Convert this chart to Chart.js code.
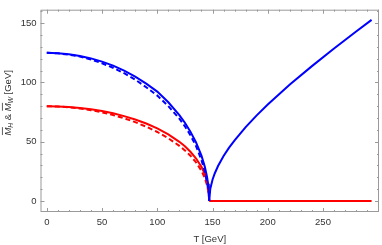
<!DOCTYPE html>
<html lang="en">
<head>
    <meta charset="UTF-8">
    <title>M_H and M_W vs T</title>
    <script src="https://cdn.jsdelivr.net/npm/chart.js@4.4.1/dist/chart.umd.min.js"></script>
    <style>
        body { margin: 0; background: #fff; }
    </style>
</head>
<body>
    <div id="chartContainer" style="width: 382px; height: 245px;">
        <canvas id="c" width="382" height="245"></canvas>
    </div>
    <script>
// temperature points of the broken phase (T < Tc)
const tFall = [0, 10, 20, 30, 40, 50, 60, 70, 80, 90, 100, 110, 120, 125, 130, 135, 140, 143, 145, 146, 146.6, 147];
// Higgs mass, solid and dashed
const mHSolid  = [125, 124.7, 123.8, 122.4, 120.3, 117.6, 114.2, 110.0, 105.0, 99.0, 92.3, 83.3, 72.5, 66.0, 58.5, 49.6, 38.2, 29.0, 20.5, 14.5, 9.2, 0];
const mHDashed = [125, 124.6, 123.5, 121.8, 119.4, 116.2, 112.4, 107.8, 102.4, 96.0, 88.9, 80.0, 69.5, 63.0, 55.5, 46.5, 34.5, 25.0, 16.0, 10.0, 6.0, 0];
// W mass, solid and dashed
const mWSolid  = [80, 79.8, 79.4, 78.5, 77.4, 75.9, 74.0, 71.6, 68.8, 65.4, 61.2, 56.2, 49.9, 46.1, 41.5, 36.0, 28.8, 22.8, 16.9, 12.6, 8.5, 0];
const mWDashed = [80, 79.7, 79.1, 78.0, 76.6, 74.8, 72.5, 69.8, 66.5, 62.7, 58.2, 52.9, 46.5, 42.7, 38.2, 32.7, 25.5, 19.5, 13.5, 9.0, 5.5, 0];
// symmetric phase (T > Tc)
const tRise = [147, 148, 150, 152, 155, 160, 165, 170, 180, 190, 200, 220, 240, 260, 280, 294];
const mHRise = [0, 10.4, 17.9, 23.2, 29.5, 37.9, 45.0, 51.2, 62.3, 72.2, 81.4, 98.2, 113.8, 128.7, 143.0, 152.8];
const tFlat = [147, 294];
const mWFlat = [0, 0];

const xTicks = [0, 50, 100, 150, 200, 250];
const yTicks = [0, 50, 100, 150];

const BLUE = '#0000ff';
const RED = '#ff0000';
const FRAME = '#9a9a9a';
const FONT = '"Liberation Sans", Arial, sans-serif';

function pts(xs, ys) {
    return xs.map((x, i) => ({ x: x, y: ys[i] }));
}

function line(label, xs, ys, color, dashed) {
    return {
        label: label,
        data: pts(xs, ys),
        borderColor: color,
        borderWidth: 2,
        borderDash: dashed ? [5, 3] : [],
        pointRadius: 0,
        tension: 0,
        fill: false
    };
}

// frame with inward major/minor ticks on all four sides
const framePlugin = {
    id: 'frame',
    afterDatasetsDraw(chart) {
        const { ctx, chartArea: a, scales: { x, y } } = chart;
        ctx.save();
        ctx.strokeStyle = FRAME;
        ctx.lineWidth = 1;
        ctx.strokeRect(a.left + 0.5, a.top + 0.5, a.right - a.left - 1, a.bottom - a.top - 1);
        ctx.beginPath();
        for (let v = Math.ceil(x.min / 10) * 10; v <= x.max; v += 10) {
            const px = Math.round(x.getPixelForValue(v)) + 0.5;
            const len = v % 50 === 0 ? 4 : 2;
            ctx.moveTo(px, a.bottom); ctx.lineTo(px, a.bottom - len);
            ctx.moveTo(px, a.top); ctx.lineTo(px, a.top + len);
        }
        for (let v = Math.ceil(y.min / 10) * 10; v <= y.max; v += 10) {
            const py = Math.round(y.getPixelForValue(v)) + 0.5;
            const len = v % 50 === 0 ? 4 : 2;
            ctx.moveTo(a.left, py); ctx.lineTo(a.left + len, py);
            ctx.moveTo(a.right, py); ctx.lineTo(a.right - len, py);
        }
        ctx.stroke();
        ctx.restore();
    }
};

// y axis title: overlined italic M with subscripts
const yTitlePlugin = {
    id: 'ytitle',
    afterDraw(chart) {
        const { ctx, chartArea: a } = chart;
        const size = 9.5;
        const parts = [
            { t: 'M', it: true, bar: true },
            { t: 'H', it: true, sub: true },
            { t: ' & ' },
            { t: 'M', it: true, bar: true },
            { t: 'W', it: true, sub: true },
            { t: ' [GeV]' }
        ];
        const fontFor = p => (p.it ? 'italic ' : '') + (p.sub ? size * 0.7 : size) + 'px ' + FONT;
        let total = 0;
        parts.forEach(p => { ctx.font = fontFor(p); p.w = ctx.measureText(p.t).width; total += p.w; });
        ctx.save();
        ctx.translate(7, (a.top + a.bottom) / 2 - 8);
        ctx.rotate(-Math.PI / 2);
        ctx.fillStyle = '#333';
        ctx.strokeStyle = '#333';
        ctx.lineWidth = 0.8;
        ctx.textBaseline = 'alphabetic';
        let cx = -total / 2;
        const base = 3.5;
        parts.forEach(p => {
            ctx.font = fontFor(p);
            ctx.fillText(p.t, cx, p.sub ? base + 2 : base);
            if (p.bar) {
                ctx.beginPath();
                ctx.moveTo(cx + 0.5, base - size * 0.85);
                ctx.lineTo(cx + p.w + 0.5, base - size * 0.85);
                ctx.stroke();
            }
            cx += p.w;
        });
        ctx.restore();
    }
};

const chart = new Chart(document.getElementById('c').getContext('2d'), {
    type: 'line',
    data: {
        datasets: [
            line('M_H', tFall, mHSolid, BLUE, false),
            line('M_H dashed', tFall, mHDashed, BLUE, true),
            line('M_W', tFall, mWSolid, RED, false),
            line('M_W dashed', tFall, mWDashed, RED, true),
            line('M_H rise', tRise, mHRise, BLUE, false),
            line('M_W flat', tFlat, mWFlat, RED, false)
        ]
    },
    options: {
        responsive: false,
        animation: false,
        layout: { padding: { top: 2, right: 3, left: 0, bottom: 0 } },
        plugins: {
            legend: { display: false },
            tooltip: { enabled: false }
        },
        scales: {
            x: {
                type: 'linear',
                min: -5.7,
                max: 300.7,
                afterFit: s => { s.height = 33; },
                afterBuildTicks: s => { s.ticks = xTicks.map(v => ({ value: v })); },
                grid: { display: false, drawTicks: false },
                border: { display: false },
                ticks: {
                    padding: 5,
                    maxRotation: 0,
                    color: '#333',
                    font: { family: FONT, size: 9.5 }
                },
                title: {
                    display: true,
                    text: 'T [GeV]',
                    color: '#333',
                    padding: { top: 0, bottom: 0 },
                    font: { family: FONT, size: 9.5 }
                }
            },
            y: {
                type: 'linear',
                min: -9.3,
                max: 161.4,
                afterFit: s => { s.width = 40.5; },
                afterBuildTicks: s => { s.ticks = yTicks.map(v => ({ value: v })); },
                grid: { display: false, drawTicks: false },
                border: { display: false },
                ticks: {
                    padding: 4,
                    color: '#333',
                    font: { family: FONT, size: 9.5 }
                }
            }
        }
    },
    plugins: [framePlugin, yTitlePlugin]
});
    </script>
</body>
</html>
